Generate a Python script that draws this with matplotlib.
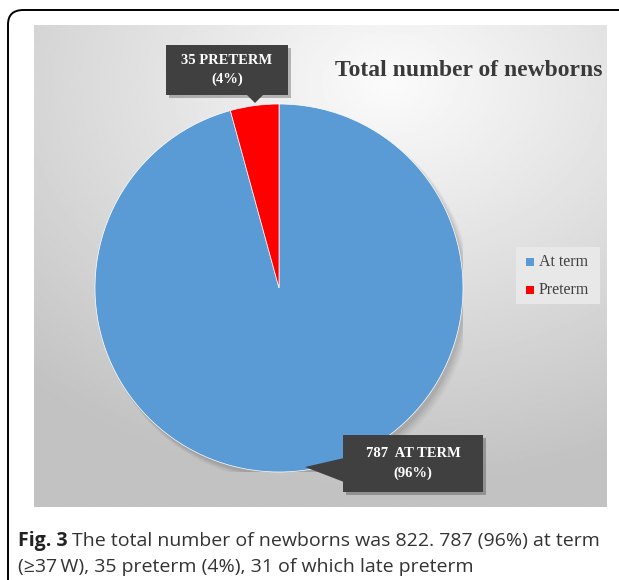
import numpy as np
import matplotlib.pyplot as plt
from matplotlib.patches import Polygon, FancyBboxPatch

# -----------------------
# Data
# -----------------------
labels = ["At term", "Preterm"]
counts = [787, 35]
colors = ["#5B9BD5", "#FF0000"]
callout_text = ["787  AT TERM\n(96%)", "35 PRETERM\n(4%)"]
title = "Total number of newborns"

W, H = 619, 580
fig = plt.figure(figsize=(W / 100, H / 100), dpi=100)
SERIF = ["Liberation Serif", "DejaVu Serif"]


def fx(x):
    return x / W


def fy(y):
    return 1 - y / H


def px_axes(x0, y0, x1, y1):
    return [fx(x0), fy(y1), fx(x1) - fx(x0), fy(y0) - fy(y1)]


# -----------------------
# Outer frame (rounded box, open to the right/bottom)
# -----------------------
frame = FancyBboxPatch((fx(8), fy(640)), fx(700), fy(10) - fy(640),
                       boxstyle="round,pad=0,rounding_size=0.025",
                       transform=fig.transFigure, fill=False,
                       edgecolor="black", linewidth=1.4, clip_on=False)
fig.patches.append(frame)

# -----------------------
# Chart area with radial gradient
# -----------------------
bg = fig.add_axes(px_axes(34, 25, 607, 507))
yy, xx = np.mgrid[0:1:300j, 0:1:360j]
r = np.sqrt(((xx - 0.62) / 1.0) ** 2 + ((yy - 0.12) / 0.9) ** 2)
shade = np.clip(0.985 - 0.24 * r, 0.76, 1.0)
bg.imshow(shade, cmap="gray", vmin=0, vmax=1, aspect="auto",
          interpolation="bilinear")
bg.axis("off")

# -----------------------
# Pie
# -----------------------
ax = fig.add_axes(px_axes(95, 104, 463, 472))
ax.set_zorder(2)
# soft shadow under the pie
for k, a in enumerate([0.05, 0.05, 0.04, 0.03]):
    ax.add_patch(plt.Circle((0.015 + 0.006 * k, -0.02 - 0.006 * k), 1.0 + 0.004 * k,
                            facecolor="black", alpha=a, linewidth=0))
wedges, _ = ax.pie(counts, colors=colors, startangle=90, counterclock=False,
                   radius=1.0, wedgeprops=dict(linewidth=0.5, edgecolor="white"))
ax.set_xlim(-1, 1)
ax.set_ylim(-1, 1)
ax.axis("off")

# -----------------------
# Callouts
# -----------------------
ov = fig.add_axes([0, 0, 1, 1])
ov.set_zorder(3)
ov.set_xlim(0, W)
ov.set_ylim(H, 0)
ov.axis("off")


def callout(box, base, tip, text):
    x0, y0, x1, y1 = box
    # drop shadow
    ov.add_patch(Polygon([(x0 + 3, y0 + 3), (x1 + 3, y0 + 3), (x1 + 3, y1 + 3),
                          (x0 + 3, y1 + 3)], closed=True,
                         facecolor="black", alpha=0.25, linewidth=0))
    ov.add_patch(Polygon([(x0, y0), (x1, y0), (x1, y1), (x0, y1)], closed=True,
                         facecolor="#404040", linewidth=0))
    ov.add_patch(Polygon([base[0], tip, base[1]], closed=True,
                         facecolor="#404040", linewidth=0))
    ov.text((x0 + x1) / 2, (y0 + y1) / 2, text, ha="center", va="center",
            color="white", fontsize=10.5, fontweight="bold", family=SERIF,
            linespacing=1.6)


callout((343, 435, 483, 492), [(344, 458), (344, 482)], (305, 467),
        callout_text[0])
callout((166, 45, 288, 95), [(246, 94), (264, 94)], (255, 103),
        callout_text[1])

# -----------------------
# Title and legend
# -----------------------
ov.text(469, 70, title, ha="center", va="center", color="#3a3a3a",
        fontsize=17, fontweight="bold", family=SERIF)

ov.add_patch(Polygon([(516, 247), (600, 247), (600, 304), (516, 304)],
                     closed=True, facecolor="#e8e8e8", linewidth=0))
for i, (lab, col) in enumerate(zip(labels, colors)):
    yc = 262 + i * 28
    ov.add_patch(Polygon([(526, yc - 4), (534, yc - 4), (534, yc + 4),
                          (526, yc + 4)], closed=True, facecolor=col,
                         linewidth=0))
    ov.text(539, yc, lab, ha="left", va="center", color="#404040",
            fontsize=11.5, family=SERIF)

# -----------------------
# Caption
# -----------------------
cap = ["Open Sans", "DejaVu Sans"]
t = ov.text(18, 541, "Fig. 3", ha="left", va="center", fontsize=14,
            fontweight="bold", family=cap, color="#222222")
fig.canvas.draw()
bb = t.get_window_extent()
ov.text(18 + bb.width + 4, 541,
        "The total number of newborns was 822. 787 (96%) at term",
        ha="left", va="center", fontsize=14, family=cap, color="#333333")
ov.text(18, 567, "(\u226537\u2009W), 35 preterm (4%), 31 of which late preterm",
        ha="left", va="center", fontsize=14, family=cap, color="#333333")

fig.savefig("out.png", dpi=100)
